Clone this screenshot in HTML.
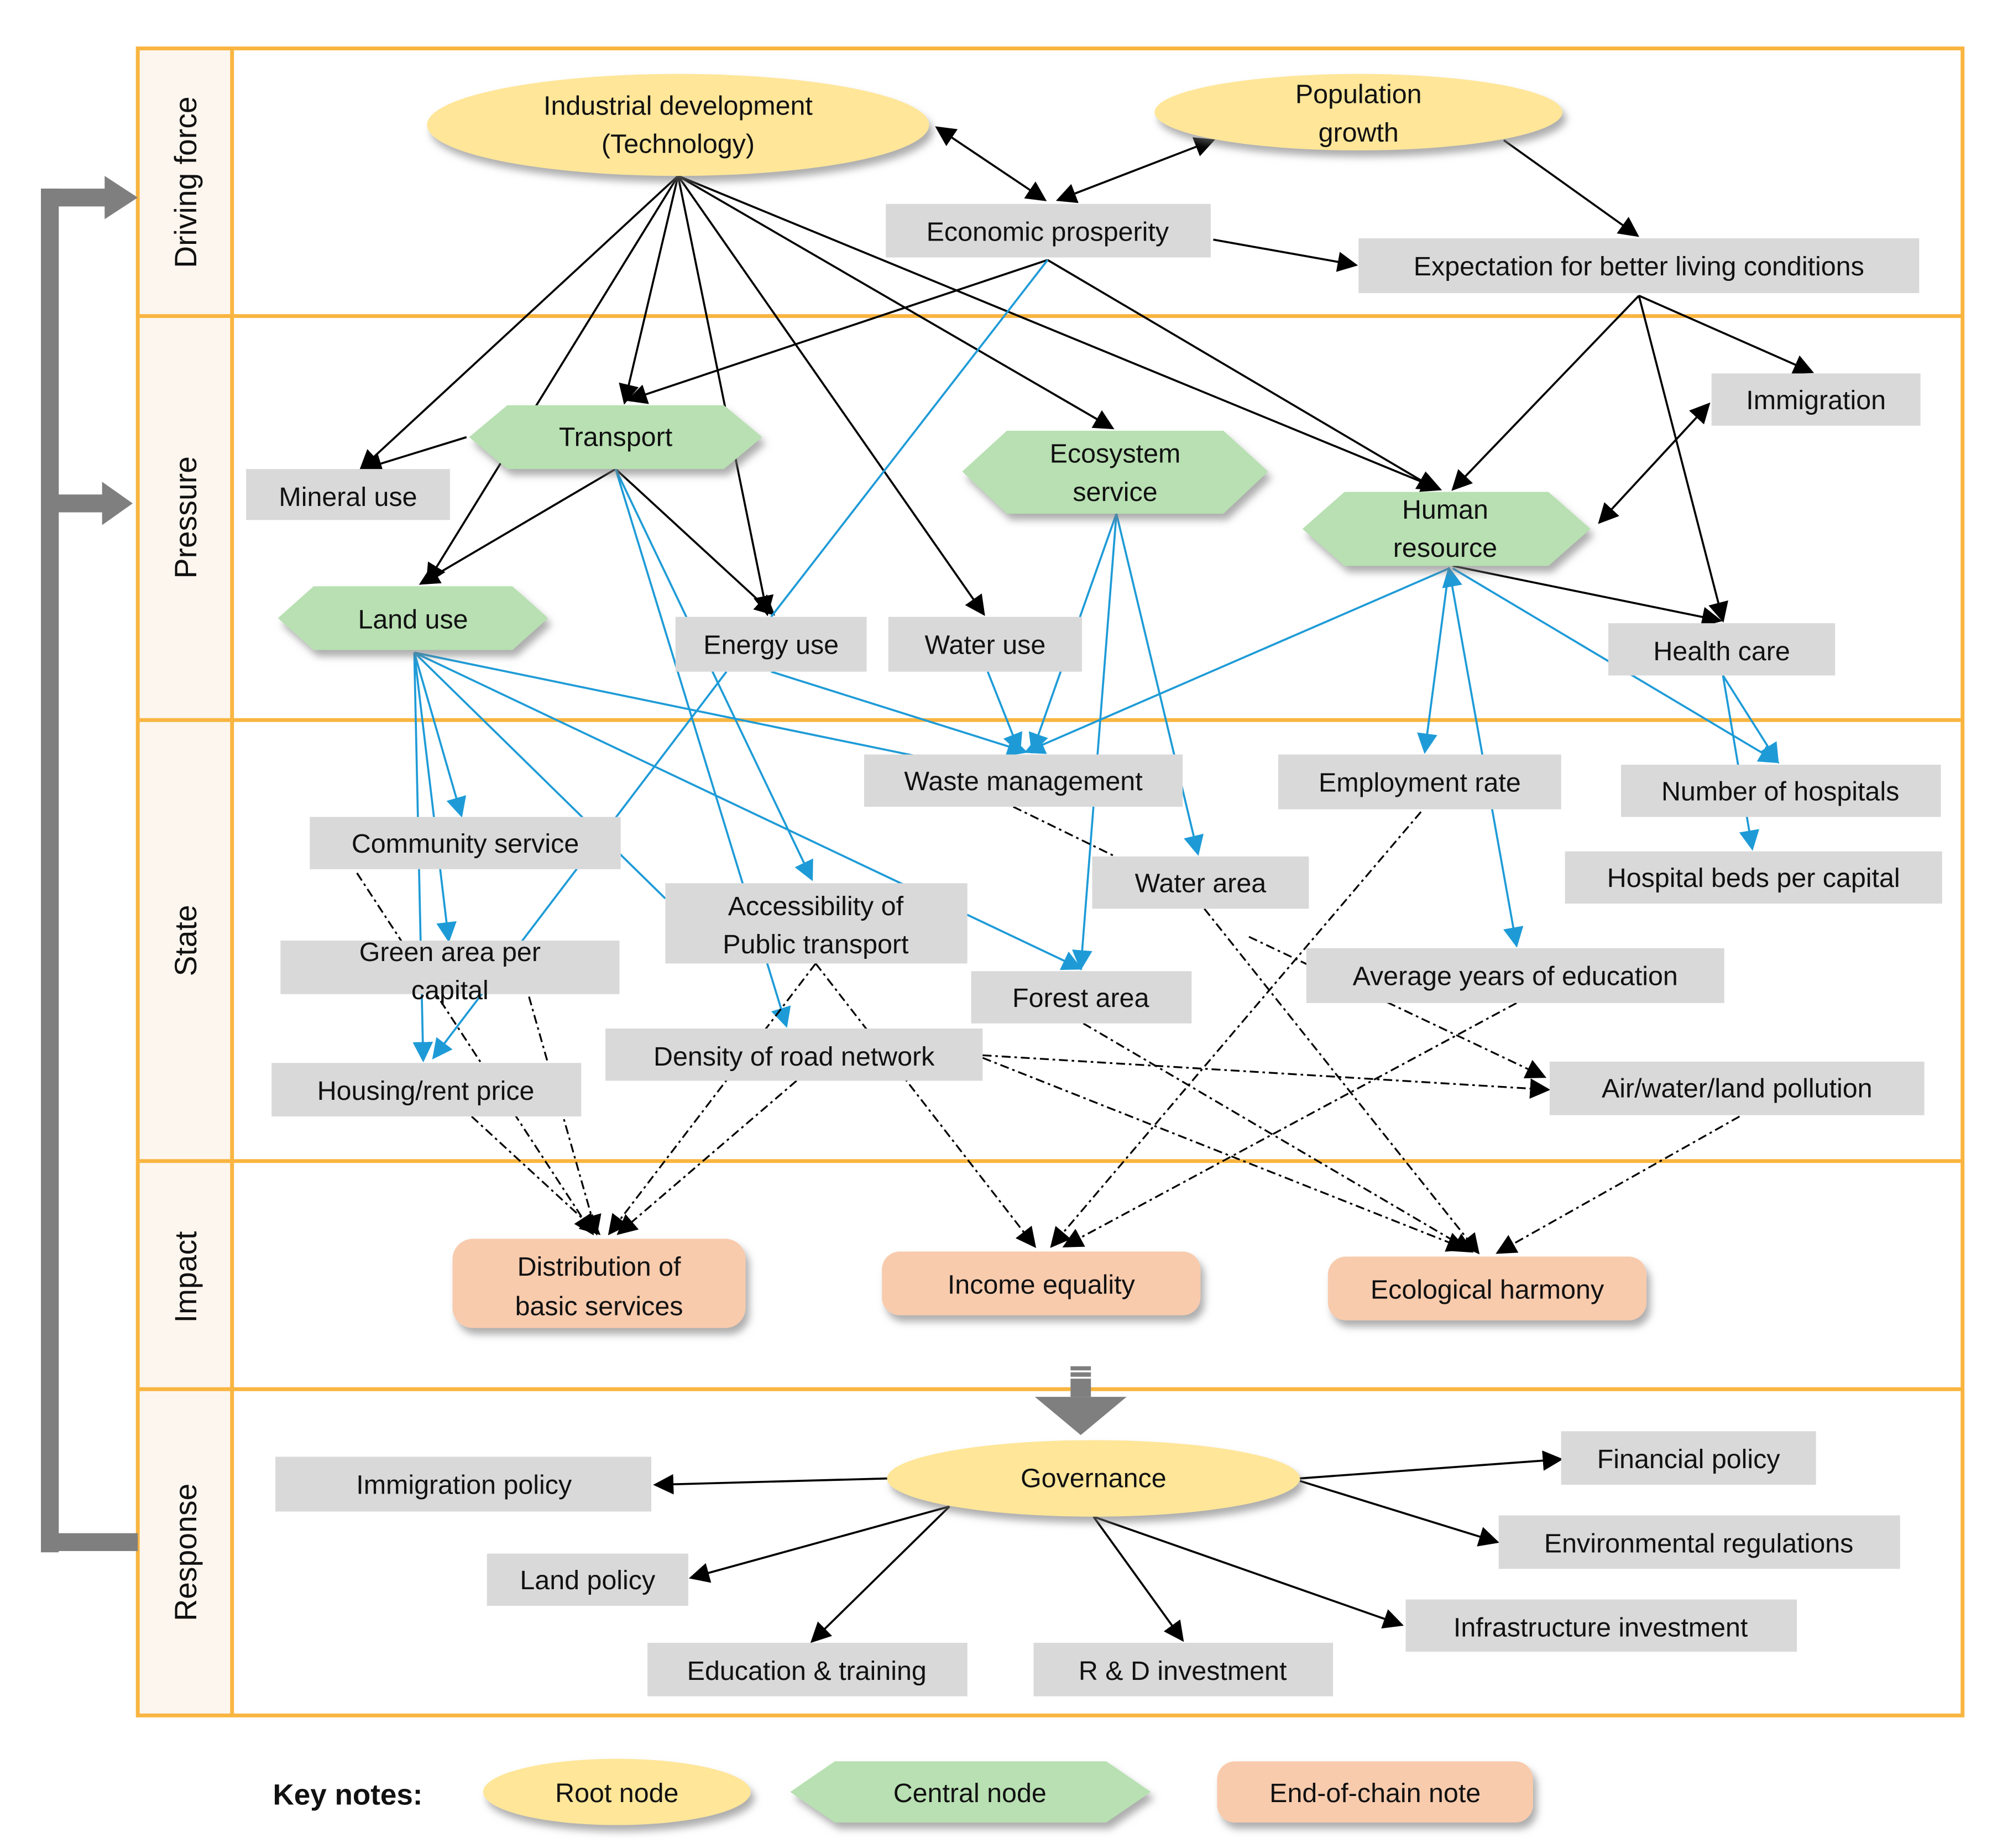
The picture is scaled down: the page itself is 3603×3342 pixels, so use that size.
<!DOCTYPE html>
<html><head><meta charset="utf-8"><style>
html,body{margin:0;padding:0;background:#fff;}
svg{display:block;}
text{font-family:"Liberation Sans",sans-serif;font-size:21px;fill:#111;}
</style></head><body>
<svg width="3603" height="3342" viewBox="0 0 1563 1450" xmlns="http://www.w3.org/2000/svg">
<defs>
<marker id="ab" viewBox="0 0 10 10" refX="9" refY="5" markerWidth="16" markerHeight="16" markerUnits="userSpaceOnUse" orient="auto-start-reverse"><path d="M0,0L10,5L0,10z" fill="#000"/></marker>
<marker id="au" viewBox="0 0 10 10" refX="9" refY="5" markerWidth="16" markerHeight="16" markerUnits="userSpaceOnUse" orient="auto-start-reverse"><path d="M0,0L10,5L0,10z" fill="#1E9BD7"/></marker>
<filter id="sh" x="-20%" y="-20%" width="140%" height="160%"><feDropShadow dx="3" dy="5" stdDeviation="3" flood-color="#777" flood-opacity="0.6"/></filter>
</defs>
<rect width="1563" height="1450" fill="#fff"/>
<!-- frame -->
<rect x="108" y="38" width="74" height="1308" fill="#FDF6EF"/>
<g stroke="#F9B540" stroke-width="3" fill="none">
<rect x="108" y="38" width="1432" height="1308"/>
<line x1="182" y1="38" x2="182" y2="1346"/>
<line x1="108" y1="248" x2="1540" y2="248"/>
<line x1="108" y1="565" x2="1540" y2="565"/>
<line x1="108" y1="911" x2="1540" y2="911"/>
<line x1="108" y1="1090" x2="1540" y2="1090"/>
</g>
<g font-size="24">
<text transform="translate(154,143) rotate(-90)" text-anchor="middle" style="font-size:24px">Driving force</text>
<text transform="translate(154,406) rotate(-90)" text-anchor="middle" style="font-size:24px">Pressure</text>
<text transform="translate(154,738) rotate(-90)" text-anchor="middle" style="font-size:24px">State</text>
<text transform="translate(154,1002) rotate(-90)" text-anchor="middle" style="font-size:24px">Impact</text>
<text transform="translate(154,1218) rotate(-90)" text-anchor="middle" style="font-size:24px">Response</text>
</g>
<!-- feedback arrow -->
<g fill="#7F7F7F">
<rect x="32" y="148" width="14" height="1070"/>
<rect x="32" y="148" width="54" height="14"/>
<path d="M82,138L108,155L82,172z"/>
<rect x="32" y="388" width="54" height="14"/>
<path d="M80,378L104,395L80,412z"/>
<rect x="32" y="1203" width="76" height="14"/>
<rect x="840" y="1072" width="16" height="24"/>
<path d="M812,1096L884,1096L848,1126z"/>
</g>
<g stroke="#fff" stroke-width="1.5"><line x1="832" y1="1076" x2="864" y2="1076"/><line x1="832" y1="1081" x2="864" y2="1081"/></g>

<!-- black edges -->
<g stroke="#000" stroke-width="1.6" fill="none" marker-end="url(#ab)">
<line x1="532" y1="138" x2="283" y2="368"/>
<line x1="532" y1="138" x2="490" y2="316"/>
<line x1="532" y1="138" x2="602" y2="482"/>
<line x1="532" y1="138" x2="772" y2="482"/>
<line x1="532" y1="138" x2="873" y2="336"/>
<line x1="532" y1="138" x2="1130" y2="384"/>
<line x1="532" y1="138" x2="335" y2="457"/>
<line x1="735" y1="100" x2="820" y2="157" marker-start="url(#ab)"/>
<line x1="830" y1="157" x2="952" y2="110" marker-start="url(#ab)"/>
<line x1="822" y1="204" x2="493" y2="314"/>
<line x1="822" y1="204" x2="1127" y2="384"/>
<line x1="952" y1="188" x2="1064" y2="208"/>
<line x1="1180" y1="110" x2="1285" y2="185"/>
<line x1="1286" y1="232" x2="1422" y2="292"/>
<line x1="1286" y1="232" x2="1140" y2="384"/>
<line x1="1286" y1="232" x2="1352" y2="487"/>
<line x1="1255" y1="410" x2="1341" y2="317" marker-start="url(#ab)"/>
<line x1="1140" y1="444" x2="1350" y2="487"/>
<line x1="483" y1="368" x2="330" y2="458"/>
<line x1="483" y1="368" x2="607" y2="482"/>
<line x1="366" y1="343" x2="285" y2="368"/>
<line x1="698" y1="1160" x2="514" y2="1165"/>
<line x1="1020" y1="1160" x2="1225" y2="1145"/>
<line x1="1020" y1="1162" x2="1175" y2="1210"/>
<line x1="745" y1="1182" x2="542" y2="1238"/>
<line x1="745" y1="1182" x2="637" y2="1288"/>
<line x1="858" y1="1190" x2="928" y2="1287"/>
<line x1="858" y1="1190" x2="1100" y2="1275"/>
</g>
<!-- blue edges -->
<g stroke="#1E9BD7" stroke-width="1.6" fill="none" marker-end="url(#au)">
<line x1="822" y1="204" x2="605" y2="484" marker-end="none"/>
<line x1="483" y1="368" x2="637" y2="690"/>
<line x1="483" y1="368" x2="617" y2="805"/>
<line x1="605" y1="527" x2="805" y2="590"/>
<line x1="570" y1="527" x2="340" y2="830"/>
<line x1="775" y1="527" x2="800" y2="590"/>
<line x1="876" y1="403" x2="810" y2="590"/>
<line x1="876" y1="403" x2="848" y2="760"/>
<line x1="876" y1="403" x2="940" y2="670"/>
<line x1="1137" y1="446" x2="805" y2="590"/>
<line x1="1137" y1="446" x2="1118" y2="590"/>
<line x1="1190" y1="742" x2="1137" y2="446" marker-start="url(#au)"/>
<line x1="1140" y1="446" x2="1395" y2="598"/>
<line x1="1352" y1="530" x2="1395" y2="598"/>
<line x1="1352" y1="530" x2="1375" y2="666"/>
<line x1="325" y1="512" x2="362" y2="640"/>
<line x1="325" y1="512" x2="352" y2="738"/>
<line x1="325" y1="512" x2="332" y2="832"/>
<line x1="325" y1="512" x2="800" y2="610"/>
<line x1="325" y1="512" x2="848" y2="760"/>
<line x1="325" y1="512" x2="522" y2="705" marker-end="none"/>
</g>
<!-- dash-dot edges -->
<g stroke="#000" stroke-width="1.4" fill="none" stroke-dasharray="7,3,2,3" marker-end="url(#ab)">
<line x1="280" y1="685" x2="465" y2="968"/>
<line x1="415" y1="782" x2="468" y2="968"/>
<line x1="370" y1="876" x2="470" y2="968"/>
<line x1="625" y1="848" x2="485" y2="968"/>
<line x1="640" y1="756" x2="478" y2="968"/>
<line x1="640" y1="756" x2="812" y2="978"/>
<line x1="795" y1="633" x2="875" y2="672" marker-end="none"/>
<line x1="1115" y1="637" x2="825" y2="978"/>
<line x1="1190" y1="787" x2="835" y2="978"/>
<line x1="945" y1="713" x2="1160" y2="983"/>
<line x1="980" y1="735" x2="1212" y2="845"/>
<line x1="771" y1="828" x2="1215" y2="855"/>
<line x1="771" y1="830" x2="1150" y2="980"/>
<line x1="850" y1="803" x2="1155" y2="982"/>
<line x1="1365" y1="876" x2="1175" y2="983"/>
</g>

<!-- gray boxes -->
<g fill="#D9D9D9">
<rect x="695" y="160" width="255" height="42"/>
<rect x="1066" y="187" width="440" height="43"/>
<rect x="193" y="368" width="160" height="40"/>
<rect x="1343" y="293" width="164" height="41"/>
<rect x="530" y="484" width="150" height="43"/>
<rect x="697" y="484" width="152" height="43"/>
<rect x="1262" y="489" width="178" height="41"/>
<rect x="678" y="592" width="250" height="41"/>
<rect x="1003" y="592" width="222" height="43"/>
<rect x="1272" y="600" width="251" height="41"/>
<rect x="243" y="641" width="244" height="41"/>
<rect x="857" y="672" width="170" height="41"/>
<rect x="1228" y="668" width="296" height="41"/>
<rect x="522" y="693" width="237" height="63"/>
<rect x="220" y="738" width="266" height="42"/>
<rect x="1025" y="744" width="328" height="43"/>
<rect x="762" y="762" width="173" height="41"/>
<rect x="475" y="807" width="296" height="41"/>
<rect x="213" y="834" width="243" height="42"/>
<rect x="1216" y="833" width="294" height="42"/>
<rect x="216" y="1143" width="295" height="43"/>
<rect x="1225" y="1123" width="200" height="42"/>
<rect x="1176" y="1189" width="315" height="42"/>
<rect x="382" y="1219" width="158" height="41"/>
<rect x="1103" y="1255" width="307" height="41"/>
<rect x="508" y="1289" width="251" height="42"/>
<rect x="811" y="1289" width="235" height="42"/>
</g>
<!-- colored nodes -->
<g filter="url(#sh)">
<ellipse cx="532" cy="98" rx="197" ry="40" fill="#FFE699"/>
<ellipse cx="1066" cy="88" rx="160" ry="30" fill="#FFE699"/>
<ellipse cx="858" cy="1160" rx="162" ry="30" fill="#FFE699"/>
<ellipse cx="484" cy="1406" rx="105" ry="26" fill="#FFE699"/>
<polygon points="368,343 398,318 568,318 598,343 568,368 398,368" fill="#B8E0B2"/>
<polygon points="755,370 790,338 960,338 995,370 960,403 790,403" fill="#B8E0B2"/>
<polygon points="1022,415 1055,386 1215,386 1248,415 1215,444 1055,444" fill="#B8E0B2"/>
<polygon points="218,485 246,460 402,460 430,485 402,510 246,510" fill="#B8E0B2"/>
<polygon points="620,1406 655,1382 868,1382 903,1406 868,1430 655,1430" fill="#B8E0B2"/>
<rect x="355" y="972" width="230" height="70" rx="16" fill="#F8CBAD"/>
<rect x="692" y="982" width="250" height="50" rx="14" fill="#F8CBAD"/>
<rect x="1042" y="986" width="250" height="50" rx="14" fill="#F8CBAD"/>
<rect x="955" y="1382" width="248" height="48" rx="14" fill="#F8CBAD"/>
</g>
<!-- labels -->
<g text-anchor="middle">
<text x="532" y="90">Industrial development</text><text x="532" y="120">(Technology)</text>
<text x="1066" y="81">Population</text><text x="1066" y="111">growth</text>
<text x="822" y="189">Economic prosperity</text>
<text x="1286" y="216">Expectation for better living conditions</text>
<text x="483" y="350">Transport</text>
<text x="273" y="397">Mineral use</text>
<text x="875" y="363">Ecosystem</text><text x="875" y="393">service</text>
<text x="1134" y="407">Human</text><text x="1134" y="437">resource</text>
<text x="1425" y="321">Immigration</text>
<text x="324" y="493">Land use</text>
<text x="605" y="513">Energy use</text>
<text x="773" y="513">Water use</text>
<text x="1351" y="518">Health care</text>
<text x="803" y="620">Waste management</text>
<text x="1114" y="621">Employment rate</text>
<text x="1397" y="628">Number of hospitals</text>
<text x="365" y="669">Community service</text>
<text x="942" y="700">Water area</text>
<text x="1376" y="696">Hospital beds per capital</text>
<text x="640" y="718">Accessibility of</text><text x="640" y="748">Public transport</text>
<text x="353" y="754">Green area per</text><text x="353" y="784">capital</text>
<text x="1189" y="773">Average years of education</text>
<text x="848" y="790">Forest area</text>
<text x="623" y="836">Density of road network</text>
<text x="334" y="863">Housing/rent price</text>
<text x="1363" y="861">Air/water/land pollution</text>
<text x="470" y="1001">Distribution of</text><text x="470" y="1032">basic services</text>
<text x="817" y="1015">Income equality</text>
<text x="1167" y="1019">Ecological harmony</text>
<text x="858" y="1167">Governance</text>
<text x="364" y="1172">Immigration policy</text>
<text x="1325" y="1152">Financial policy</text>
<text x="1333" y="1218">Environmental regulations</text>
<text x="461" y="1247">Land policy</text>
<text x="1256" y="1284">Infrastructure investment</text>
<text x="633" y="1318">Education &amp; training</text>
<text x="928" y="1318">R &amp; D investment</text>
<text x="484" y="1414">Root node</text>
<text x="761" y="1414">Central node</text>
<text x="1079" y="1414">End-of-chain note</text>
</g>
<text x="214" y="1416" style="font-size:23px;font-weight:bold">Key notes:</text>
</svg>
</body></html>
